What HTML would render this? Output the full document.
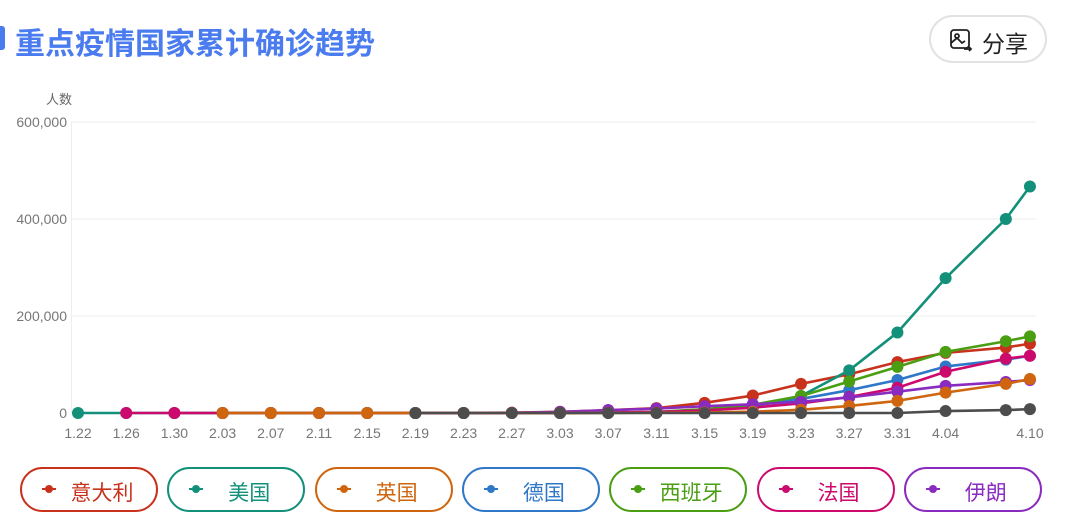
<!DOCTYPE html>
<html><head><meta charset="utf-8"><style>
body{margin:0;width:1065px;height:513px;background:#fff;overflow:hidden;font-family:"Liberation Sans","Noto Sans CJK SC",sans-serif;position:relative}
.t{position:absolute;left:15px;top:19px;font-size:30px;font-weight:bold;color:#4a7cf0;letter-spacing:0px}
.bar{position:absolute;left:0;top:26px;width:5px;height:24px;background:#4a7cf0;border-radius:0 3px 3px 0}
.share{position:absolute;left:929px;top:15px;width:114px;height:44px;border:2px solid #e2e2e2;border-radius:24px;box-sizing:content-box}
.share span{position:absolute;left:51px;top:8px;font-size:23px;color:#222}
.pill{position:absolute;top:467px;width:134px;height:41px;border:2px solid;border-radius:23px;font-size:21px;font-family:"Liberation Sans","Noto Sans CJK SC",sans-serif}
.pill i{position:absolute;left:20px;top:19px;width:14px;height:2px}
.pill b{position:absolute;left:23px;top:16px;width:8px;height:8px;border-radius:50%}
.pill span{position:absolute;top:8px;left:38px;right:0;text-align:center;padding-right:12px}
</style></head><body>
<div class="bar"></div>
<div class="t">重点疫情国家累计确诊趋势</div>
<div class="share"><svg style="position:absolute;left:18px;top:11px" width="24" height="24" viewBox="0 0 24 24" fill="none" stroke="#222" stroke-width="1.8"><rect x="2" y="2" width="18" height="18" rx="3"/><circle cx="8" cy="8" r="2"/><path d="M2 15l6-5 5 5 3-2"/><path d="M15 21h7m-2-2l2 2-2 2"/></svg><span>分享</span></div>
<svg id="c" width="1065" height="460" style="position:absolute;left:0;top:0"></svg>
<div id="lg"></div>
<script>
var NS="http://www.w3.org/2000/svg",s=document.getElementById('c');
function el(n,a,t){var e=document.createElementNS(NS,n);for(var k in a)e.setAttribute(k,a[k]);if(t)e.textContent=t;s.appendChild(e);return e;}
var X0=78,DX=12.05,Y0=413,K=97/200000;
[0,200000,400000,600000].forEach(function(v,i){var y=Y0-v*K;
 if(i>0)el('line',{x1:71,x2:1036,y1:y,y2:y,stroke:'#eee','stroke-width':1});
 el('text',{x:67,y:y+5,'text-anchor':'end','font-size':14,fill:'#777','font-family':'Liberation Sans'},v?v.toLocaleString('en-US'):'0');});
el('line',{x1:71.5,x2:71.5,y1:122,y2:413,stroke:'#eee'});
el('text',{x:72,y:104,'text-anchor':'end','font-size':13,fill:'#666','font-family':'Liberation Sans,Noto Sans CJK SC,sans-serif'},'人数');
var labs=['1.22','1.26','1.30','2.03','2.07','2.11','2.15','2.19','2.23','2.27','3.03','3.07','3.11','3.15','3.19','3.23','3.27','3.31','4.04'];
labs.forEach(function(l,i){el('text',{x:X0+i*4*DX,y:438,'text-anchor':'middle','font-size':14,fill:'#777','font-family':'Liberation Sans'},l);});
el('text',{x:1030,y:438,'text-anchor':'middle','font-size':14,fill:'#777','font-family':'Liberation Sans'},'4.10');
var D=[0,4,8,12,16,20,24,28,32,36,40,44,48,52,56,60,64,68,72,77,79];
var S=[
 ['#c8321c',2,[null,null,0,0,0,0,0,0,0.1,0.65,2.5,5.9,10,21,36,60,80,105,124,135,143]],
 ['#12907a',0,[0,0,0,0,0,0,0,0,0,0,0.1,0.4,1.3,3.5,14,35,88,166,278,400,467]],
 ['#2f77c8',3,[null,null,null,0,0,0,0,0,0,0,0.2,0.8,1.9,5.8,15,29,47,68,96,110,118]],
 ['#4a9e12',3,[null,null,null,0,0,0,0,0,0,0,0.2,0.5,2.2,7.8,17,35,65,95,126,148,158]],
 ['#cc0a6e',1,[null,0,0,0,0,0,0,0,0,0,0.2,0.9,2.2,5.4,11,20,33,52,85,112,118]],
 ['#8a2bc0',7,[null,null,null,null,null,null,null,0,0.1,0.4,2.3,5.8,9,14,18,23,32,44,56,64,68]],
 ['#d0650f',3,[null,null,null,0,0,0,0,0,0,0,0,0.2,0.5,1.1,2.7,6.6,14.5,25,42,60,70]],
 ['#4d4d4d',7,[null,null,null,null,null,null,null,0,0,0,0,0,0,0,0,0,0,0,4,6,8]]];
S.forEach(function(se){var p=[];se[2].forEach(function(v,i){if(v!==null)p.push([X0+D[i]*DX,Y0-v*1000*K]);});
 el('polyline',{points:p.map(function(q){return q.join(',')}).join(' '),fill:'none',stroke:se[0],'stroke-width':2.6,'stroke-linejoin':'round'});
 p.forEach(function(q){el('circle',{cx:q[0],cy:q[1],r:6,fill:se[0]});});});
var L=[['意大利','#c8321c'],['美国','#12907a'],['英国','#d0650f'],['德国','#2f77c8'],['西班牙','#4a9e12'],['法国','#cc0a6e'],['伊朗','#8a2bc0']],h='';
L.forEach(function(l,i){h+='<div class="pill" style="left:'+(20+i*147.3)+'px;border-color:'+l[1]+';color:'+l[1]+'"><i style="background:'+l[1]+'"></i><b style="background:'+l[1]+'"></b><span>'+l[0]+'</span></div>';});
document.getElementById('lg').innerHTML=h;
</script>
</body></html>
